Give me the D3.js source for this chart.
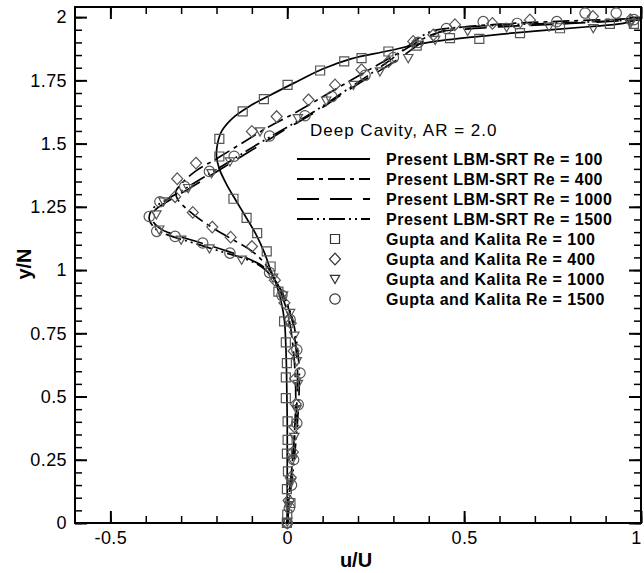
<!DOCTYPE html>
<html>
<head>
<meta charset="utf-8">
<script src="https://cdn.jsdelivr.net/npm/d3@7"></script>
<style>
  body { margin: 0; background: #fff; }
  svg { font-family: Arial, "Liberation Sans", sans-serif; }
</style>
</head>
<body>
<svg id="chart" width="644" height="573"></svg>
<script>
// --- data (u/U, y/N) ---
var lbm100 = [[0,0],[0,0.1],[0,0.2],[0,0.3],[0,0.4],[-0.001,0.5],[-0.002,0.6],[-0.004,0.7],[-0.008,0.8],
  [-0.018,0.88],[-0.03,0.94],[-0.047,1.0],[-0.065,1.07],[-0.088,1.14],[-0.115,1.205],[-0.145,1.275],
  [-0.172,1.34],[-0.192,1.4],[-0.2,1.45],[-0.197,1.5],[-0.185,1.55],[-0.155,1.6],[-0.11,1.645],
  [-0.05,1.69],[0.02,1.74],[0.1,1.795],[0.18,1.835],[0.28,1.865],[0.4,1.9],[0.55,1.925],[0.7,1.945],
  [0.85,1.962],[0.95,1.975],[1.0,1.995]];
var lbm400 = [[0,0],[0.005,0.1],[0.012,0.2],[0.018,0.3],[0.022,0.4],[0.024,0.5],[0.022,0.6],[0.016,0.7],
  [0.006,0.8],[-0.01,0.88],[-0.03,0.95],[-0.06,1.02],[-0.1,1.075],[-0.16,1.125],[-0.22,1.175],
  [-0.27,1.225],[-0.31,1.28],[-0.315,1.31],[-0.3,1.34],[-0.26,1.39],[-0.2,1.44],[-0.13,1.5],
  [-0.06,1.56],[0.02,1.62],[0.1,1.685],[0.18,1.75],[0.26,1.815],[0.33,1.87],[0.4,1.925],
  [0.47,1.955],[0.6,1.972],[0.8,1.985],[1.0,1.995]];
var lbm1000 = [[0,0],[0.006,0.1],[0.012,0.2],[0.018,0.3],[0.024,0.4],[0.028,0.5],[0.029,0.6],[0.024,0.7],
  [0.014,0.8],[-0.005,0.88],[-0.03,0.95],[-0.065,1.01],[-0.11,1.045],[-0.17,1.075],[-0.25,1.11],
  [-0.32,1.14],[-0.36,1.165],[-0.382,1.2],[-0.375,1.235],[-0.34,1.27],[-0.28,1.32],[-0.21,1.38],
  [-0.14,1.44],[-0.07,1.5],[0.0,1.56],[0.08,1.625],[0.16,1.7],[0.24,1.77],[0.32,1.84],[0.38,1.9],
  [0.43,1.94],[0.5,1.952],[0.65,1.965],[0.8,1.975],[1.0,1.99]];
var lbm1500 = [[0,0],[0.008,0.1],[0.016,0.2],[0.023,0.3],[0.029,0.4],[0.033,0.5],[0.034,0.6],[0.028,0.7],
  [0.016,0.8],[-0.004,0.88],[-0.03,0.95],[-0.07,1.01],[-0.12,1.045],[-0.18,1.07],[-0.26,1.105],
  [-0.33,1.135],[-0.37,1.16],[-0.39,1.2],[-0.382,1.24],[-0.345,1.275],[-0.285,1.325],[-0.215,1.385],
  [-0.145,1.445],[-0.075,1.505],[0.0,1.565],[0.08,1.63],[0.16,1.705],[0.24,1.78],[0.31,1.85],
  [0.36,1.905],[0.4,1.94],[0.45,1.955],[0.6,1.968],[0.8,1.978],[1.0,1.99]];

var gk100 = [[-0.001,0.0],[0.0,0.033],[0.009,0.079],[-0.001,0.134],[0.002,0.204],[-0.001,0.274],
  [0.001,0.329],[0.001,0.402],[-0.004,0.494],[-0.004,0.576],[-0.001,0.632],[-0.004,0.714],
  [-0.009,0.797],[-0.025,0.915],[-0.047,1.014],[-0.058,1.074],[-0.085,1.146],[-0.115,1.206],
  [-0.152,1.282],[-0.192,1.449],[-0.192,1.519],[-0.126,1.627],[-0.066,1.676],[0.001,1.732],
  [0.093,1.789],[0.161,1.825],[0.21,1.838],[0.286,1.864],[0.366,1.887],[0.46,1.917],[0.543,1.914],
  [0.658,1.937],[0.771,1.956],[0.912,1.973],[0.98,1.973]];
var gk400 = [[0.0,0.0],[0.004,0.09],[0.01,0.18],[0.016,0.28],[0.02,0.38],[0.024,0.47],[0.022,0.57],
  [0.018,0.68],[0.01,0.79],[-0.008,0.87],[-0.035,0.96],[-0.1,1.093],[-0.16,1.13],[-0.212,1.17],
  [-0.267,1.228],[-0.317,1.29],[-0.311,1.361],[-0.258,1.423],[-0.1,1.548],[-0.03,1.607],[0.06,1.673],
  [0.135,1.732],[0.21,1.792],[0.286,1.824],[0.356,1.904],[0.413,1.93],[0.474,1.97],[0.58,1.975],
  [0.686,1.989],[0.864,2.003],[0.97,1.99]];
var gk1000 = [[0.0,0.005],[0.004,0.07],[0.01,0.16],[0.014,0.25],[0.02,0.34],[0.026,0.45],[0.03,0.55],
  [0.027,0.64],[0.02,0.74],[0.008,0.83],[-0.012,0.9],[-0.04,0.97],[-0.129,1.041],[-0.22,1.085],
  [-0.3,1.12],[-0.362,1.16],[-0.37,1.22],[-0.35,1.271],[-0.28,1.324],[-0.214,1.383],[-0.162,1.429],
  [-0.077,1.548],[0.03,1.6],[0.11,1.67],[0.187,1.732],[0.262,1.785],[0.342,1.838],[0.418,1.91],
  [0.51,1.945],[0.62,1.96],[0.74,1.962],[0.865,1.956],[0.97,1.975]];
var gk1500 = [[0.0,0.0],[0.006,0.06],[0.012,0.15],[0.018,0.25],[0.027,0.395],[0.031,0.468],[0.036,0.593],
  [0.027,0.685],[0.008,0.804],[-0.015,0.9],[-0.05,0.99],[-0.162,1.067],[-0.239,1.107],[-0.317,1.133],
  [-0.369,1.153],[-0.39,1.212],[-0.36,1.27],[-0.29,1.33],[-0.22,1.39],[-0.15,1.45],[-0.05,1.53],
  [0.05,1.61],[0.126,1.686],[0.22,1.77],[0.3,1.84],[0.37,1.9],[0.45,1.955],[0.554,1.982],[0.65,1.975],
  [0.762,1.982],[0.842,2.016],[0.93,2.016],[0.98,1.99]];

var lineLabels = ["Present LBM-SRT Re = 100", "Present LBM-SRT Re = 400",
                  "Present LBM-SRT Re = 1000", "Present LBM-SRT Re = 1500"];
var markLabels = ["Gupta and Kalita Re = 100", "Gupta and Kalita Re = 400",
                  "Gupta and Kalita Re = 1000", "Gupta and Kalita Re = 1500"];
var legendTitle = "Deep Cavity, AR = 2.0";
var xTicks = [-0.5, 0, 0.5, 1];
var yTicks = [0, 0.25, 0.5, 0.75, 1, 1.25, 1.5, 1.75, 2];

// --- layout ---
var L = 75, R = 641, T = 7, B = 523;
var svg = d3.select("#chart");
svg.append("rect").attr("width", 644).attr("height", 573).attr("fill", "#fff");

var x = d3.scaleLinear().domain([-0.6, 1]).range([L, R]);
var y = d3.scaleLinear().domain([0, 2.04]).range([B, T]);

var xMinor = d3.range(-0.5, 1.0001, 0.1);
var yMinor = d3.range(0, 2.0001, 0.05);
var fmt = function(d) { return String(d); };

function axis(gen, tx, ty, vals, size, width, labels) {
  var g = svg.append("g").attr("transform", "translate(" + tx + "," + ty + ")")
    .call(gen.tickValues(vals).tickSize(-size).tickPadding(labels ? 8 : 0)
      .tickFormat(labels ? fmt : function() { return ""; }));
  g.select(".domain").remove();
  g.selectAll(".tick line").attr("stroke", "#000").attr("stroke-width", width);
  g.selectAll("text").attr("font-size", 18).attr("fill", "#000").attr("letter-spacing", 0.4);
  return g;
}
axis(d3.axisBottom(x), 0, B, xMinor, 7, 1.5, false);
axis(d3.axisTop(x), 0, T, xMinor, 7, 1.5, false);
var xg = axis(d3.axisBottom(x), 0, B, xTicks, 12, 2, true);
// last label sits on the page edge; nudge it in so it stays whole
xg.selectAll("text").filter(function(d) { return d == 1; }).attr("dx", -5);
axis(d3.axisTop(x), 0, T, xTicks, 12, 2, false);
axis(d3.axisLeft(y), L, 0, yMinor, 7, 1.5, false);
axis(d3.axisRight(y), R, 0, yMinor, 7, 1.5, false);
axis(d3.axisLeft(y), L, 0, yTicks, 12, 2, true);
axis(d3.axisRight(y), R, 0, yTicks, 12, 2, false);

svg.append("rect").attr("x", L).attr("y", T).attr("width", R - L).attr("height", B - T)
  .attr("fill", "none").attr("stroke", "#000").attr("stroke-width", 2);

// axis titles
svg.append("text").attr("x", 356).attr("y", 567).attr("text-anchor", "middle")
  .attr("font-size", 20).attr("font-weight", "bold").text("u/U");
svg.append("text").attr("transform", "translate(31,264) rotate(-90)").attr("text-anchor", "middle")
  .attr("font-size", 20).attr("font-weight", "bold").text("y/N");

// --- curves ---
var dashes = [null, "17,5,4,5", "22,11", "16,4,2,4,2,4"];
var line = d3.line().x(function(d) { return x(d[0]); }).y(function(d) { return y(d[1]); })
  .curve(d3.curveCatmullRom);
[lbm100, lbm400, lbm1000, lbm1500].forEach(function(s, i) {
  svg.append("path").datum(s).attr("d", line).attr("fill", "none")
    .attr("stroke", "#000").attr("stroke-width", 1.7)
    .attr("stroke-dasharray", dashes[i]);
});

// --- markers ---
function shape(kind) {
  if (kind == 0) return "M-4.5,-4.5H4.5V4.5H-4.5Z";
  if (kind == 1) return "M0,-5.8L5.5,0L0,5.8L-5.5,0Z";
  if (kind == 2) return "M-4.7,-3.6H4.7L0,4.6Z";
  return "M5.2,0A5.2,5.2 0 1,1 -5.2,0A5.2,5.2 0 1,1 5.2,0Z";
}
[gk100, gk400, gk1000, gk1500].forEach(function(s, i) {
  svg.append("g").selectAll("path").data(s).enter().append("path")
    .attr("transform", function(d) { return "translate(" + x(d[0]) + "," + y(d[1]) + ")"; })
    .attr("d", shape(i)).attr("fill", "none").attr("stroke", "#555").attr("stroke-width", 1.2);
});

// --- legend ---
svg.append("text").attr("x", 310).attr("y", 136).attr("font-size", 17)
  .attr("letter-spacing", 1).text(legendTitle);
var lg = svg.append("g");
lineLabels.forEach(function(t, i) {
  var yy = 159 + i * 20;
  lg.append("line").attr("x1", 297).attr("x2", 370).attr("y1", yy).attr("y2", yy)
    .attr("stroke", "#000").attr("stroke-width", 2).attr("stroke-dasharray", dashes[i]);
  lg.append("text").attr("x", 386).attr("y", yy + 6).attr("font-size", 16)
    .attr("font-weight", "bold").attr("letter-spacing", 0.5).text(t);
});
markLabels.forEach(function(t, i) {
  var yy = 239 + i * 20;
  lg.append("path").attr("transform", "translate(335," + yy + ")").attr("d", shape(i))
    .attr("fill", "none").attr("stroke", "#333").attr("stroke-width", 1.2);
  lg.append("text").attr("x", 386).attr("y", yy + 6).attr("font-size", 16)
    .attr("font-weight", "bold").attr("letter-spacing", 0.5).text(t);
});
</script>
</body>
</html>
